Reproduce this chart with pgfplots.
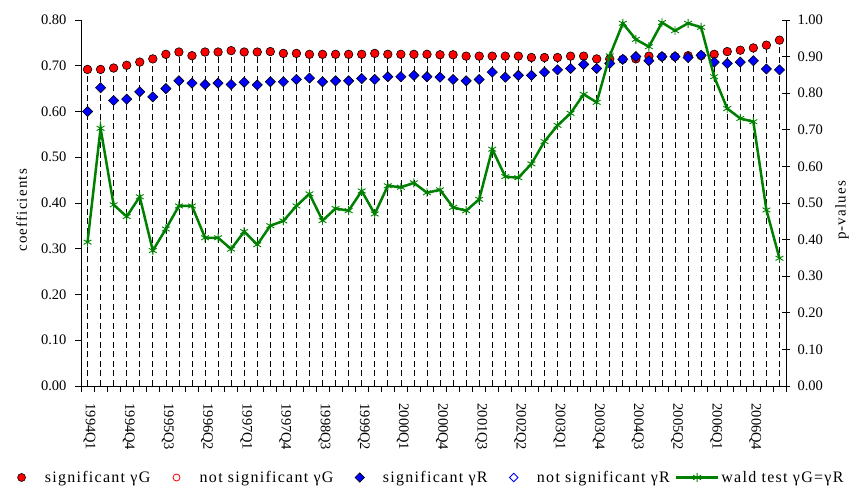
\documentclass[border=0pt]{standalone}
\usepackage{fontspec}
\setmainfont{Liberation Serif}
\newfontfamily\spaced[LetterSpace=8]{Liberation Serif}
\usepackage{pgfplots}
\usepackage{pgfplotstable}
\pgfplotsset{compat=1.18}

\definecolor{gred}{RGB}{255,0,0}
\definecolor{rblue}{RGB}{0,0,255}
\definecolor{wald}{RGB}{0,128,0}

\newcommand\tickfont{\fontsize{14.5}{16}\selectfont}
\newcommand\labfont{\fontsize{15}{17}\selectfont\spaced}
\newcommand\legfont{\fontsize{16}{18}\selectfont\spaced}

% idx: quarter index from 1994Q1; G, R on left axis; P on right axis
\pgfplotstableread{
idx G     R     P
0   0.692 0.600 0.393
1   0.692 0.652 0.704
2   0.695 0.624 0.495
3   0.701 0.627 0.463
4   0.708 0.643 0.517
5   0.715 0.632 0.370
6   0.725 0.650 0.429
7   0.730 0.667 0.492
8   0.722 0.662 0.492
9   0.730 0.659 0.405
10  0.730 0.662 0.405
11  0.733 0.659 0.374
12  0.730 0.664 0.422
13  0.730 0.658 0.386
14  0.731 0.665 0.438
15  0.727 0.665 0.451
16  0.727 0.670 0.492
17  0.725 0.673 0.525
18  0.725 0.665 0.452
19  0.725 0.667 0.485
20  0.725 0.667 0.479
21  0.725 0.672 0.533
22  0.727 0.670 0.470
23  0.725 0.676 0.547
24  0.725 0.676 0.543
25  0.725 0.679 0.555
26  0.725 0.676 0.528
27  0.724 0.675 0.536
28  0.724 0.670 0.488
29  0.721 0.667 0.479
30  0.721 0.670 0.510
31  0.721 0.686 0.647
32  0.721 0.675 0.572
33  0.721 0.679 0.569
34  0.718 0.679 0.607
35  0.718 0.686 0.668
36  0.718 0.691 0.712
37  0.721 0.694 0.745
38  0.721 0.703 0.797
39  0.715 0.694 0.775
40  0.715 0.705 0.902
41  0.714 0.714 0.991
42  0.715 0.720 0.947
43  0.721 0.711 0.927
44  0.720 0.720 0.993
45  0.720 0.720 0.971
46  0.722 0.718 0.991
47  0.722 0.723 0.980
48  0.725 0.708 0.845
49  0.731 0.705 0.758
50  0.734 0.708 0.731
51  0.739 0.711 0.722
52  0.745 0.693 0.481
53  0.756 0.691 0.349
}\data

\begin{document}
\begin{tikzpicture}
\useasboundingbox (-81pt,-100pt) rectangle (771pt,386pt);
\begin{axis}[
  scale only axis, width=705pt, height=366pt,
  xmin=-0.5, xmax=53.5, ymin=0, ymax=0.8,
  axis x line*=bottom, axis y line*=left,
  axis line style={-, black, line width=0.8pt},
  xtick={-0.5,0.5,...,53.5},
  x tick label as interval,
  xticklabels={1994Q1,,,1994Q4,,,1995Q3,,,1996Q2,,,1997Q1,,,1997Q4,,,1998Q3,,,1999Q2,,,2000Q1,,,2000Q4,,,2001Q3,,,2002Q2,,,2003Q1,,,2003Q4,,,2004Q3,,,2005Q2,,,2006Q1,,,2006Q4,,},
  ytick={0,0.1,0.2,0.3,0.4,0.5,0.6,0.7,0.8},
  tick align=outside, major tick length=6pt,
  tick style={black, line width=0.7pt},
  xticklabel style={rotate=-90, anchor=west, font=\tickfont, xshift=8pt, yshift=2pt},
  yticklabel style={font=\tickfont, xshift=-5pt,
    /pgf/number format/.cd, fixed, fixed zerofill, precision=2, assume math mode=true},
  ylabel={coefficients},
  ylabel style={at={(axis description cs:-0.084,0.48)}, anchor=center, font=\labfont},
]
\addplot[ycomb, black, line width=0.7pt, dash pattern=on 6pt off 3.5pt, no markers]
  table[x=idx, y=G] {\data};
\addplot[only marks, mark=*, mark size=4.3pt,
  mark options={fill=gred, draw=black, line width=0.6pt}]
  table[x=idx, y=G] {\data};
\addplot[only marks, mark=square*, mark size=3.6pt,
  mark options={rotate=45, fill=rblue, draw=black, line width=0.6pt}]
  table[x=idx, y=R] {\data};
\end{axis}

\begin{axis}[
  scale only axis, width=705pt, height=366pt,
  xmin=-0.5, xmax=53.5, ymin=0, ymax=1,
  axis x line=none, axis y line*=right,
  axis line style={-, black, line width=0.8pt},
  ytick={0,0.1,0.2,0.3,0.4,0.5,0.6,0.7,0.8,0.9,1},
  tick align=center, major tick length=8pt,
  tick style={black, line width=0.7pt},
  yticklabel style={font=\tickfont, xshift=4pt,
    /pgf/number format/.cd, fixed, fixed zerofill, precision=2, assume math mode=true},
  ylabel={p-values},
  ylabel style={at={(axis description cs:1.0795,0.48)}, anchor=center, font=\labfont},
  legend image code/.code={
    \path (0pt,0pt) (42pt,0pt);
    \draw[mark repeat=2, mark phase=2, #1] plot coordinates {(0pt,0pt) (21pt,0pt) (42pt,0pt)};
  },
  legend columns=5,
  legend style={draw=none, fill=none, at={(0.485,-0.25)}, anchor=center,
    font=\legfont,
    /tikz/every odd column/.append style={column sep=0pt},
    /tikz/every even column/.append style={column sep=3pt}},
]
\addlegendimage{only marks, mark=*, mark size=4pt, mark options={fill=gred, draw=black, line width=0.6pt}}
\addlegendentry{significant γG}
\addlegendimage{only marks, mark=*, mark size=3.5pt, mark options={fill=white, draw=gred, line width=0.8pt}}
\addlegendentry{not significant γG}
\addlegendimage{only marks, mark=square*, mark size=3.3pt, mark options={rotate=45, fill=rblue, draw=black, line width=0.6pt}}
\addlegendentry{significant γR}
\addlegendimage{only marks, mark=square*, mark size=3pt, mark options={rotate=45, fill=white, draw=rblue, line width=0.8pt}}
\addlegendentry{not significant γR}
\addplot[wald, line width=2.5pt, mark=asterisk, mark size=4.5pt,
  mark options={line width=0.9pt, solid}]
  table[x=idx, y=P] {\data};
\addlegendentry{wald test γG=γR}
\end{axis}
\end{tikzpicture}
\end{document}
